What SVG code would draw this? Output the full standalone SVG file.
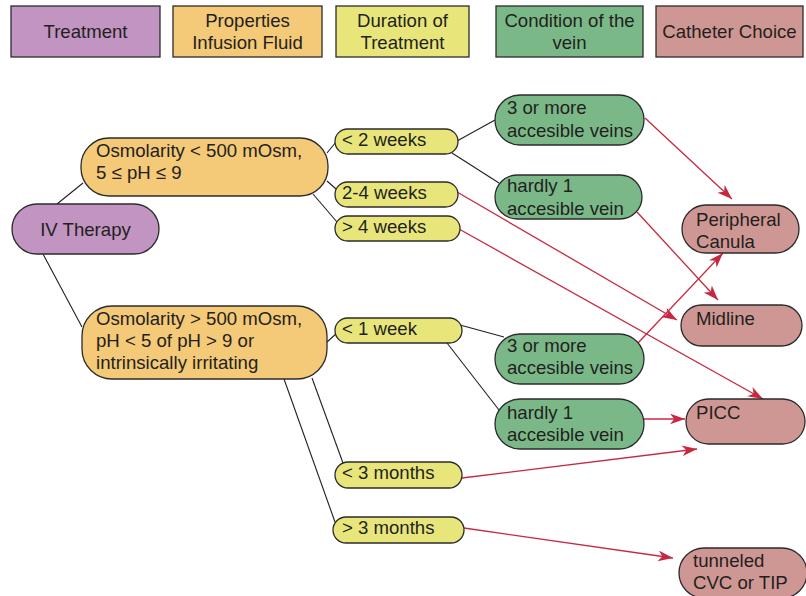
<svg xmlns="http://www.w3.org/2000/svg" width="806" height="596" viewBox="0 0 806 596">
  <defs>
    <style>
      text { font-family: "Liberation Sans", Arial, sans-serif; font-size: 18.6px; fill: #231f20; }
      .c { text-anchor: middle; }
      .box { stroke: #2b2b2b; stroke-width: 1.3; }
      .purple { fill: #c194c2; }
      .orange { fill: #f4c977; }
      .yellow { fill: #e8e67b; }
      .green { fill: #7bb888; }
      .rose { fill: #cf9793; }
      .link { stroke: #231f20; stroke-width: 1.1; fill: none; }
      .arrow { stroke: #c8283f; stroke-width: 1.3; fill: none; marker-end: url(#head); }
    </style>
    <marker id="head" viewBox="0 0 14 10" refX="14" refY="5" markerWidth="15" markerHeight="11" markerUnits="userSpaceOnUse" orient="auto">
      <path d="M0,0 L14,5 L0,10 L4,5 Z" fill="#c8283f"/>
    </marker>
  </defs>

  <!-- legend row -->
  <g id="legend-treatment">
    <rect class="box purple" x="11" y="6" width="149" height="51"/>
    <text class="c" x="85.5" y="38">Treatment</text>
  </g>
  <g id="legend-properties">
    <rect class="box orange" x="173" y="6" width="149" height="51"/>
    <text class="c" x="247.5" y="27">Properties</text>
    <text class="c" x="247.5" y="49">Infusion Fluid</text>
  </g>
  <g id="legend-duration">
    <rect class="box yellow" x="336" y="6" width="133" height="51"/>
    <text class="c" x="402.5" y="27">Duration of</text>
    <text class="c" x="402.5" y="49">Treatment</text>
  </g>
  <g id="legend-condition">
    <rect class="box green" x="496" y="6" width="147" height="51"/>
    <text class="c" x="569.5" y="27">Condition of the</text>
    <text class="c" x="569.5" y="49">vein</text>
  </g>
  <g id="legend-catheter">
    <rect class="box rose" x="656" y="6" width="147" height="51"/>
    <text class="c" x="729.5" y="38">Catheter Choice</text>
  </g>

  <!-- connectors -->
  <g id="connectors">
    <line class="link" x1="57" y1="204" x2="83" y2="183"/>
    <line class="link" x1="43" y1="254" x2="82" y2="327"/>
    <line class="link" x1="327" y1="153" x2="336" y2="142"/>
    <line class="link" x1="327" y1="181" x2="336" y2="189"/>
    <line class="link" x1="313" y1="194" x2="337" y2="222"/>
    <line class="link" x1="457" y1="141" x2="495" y2="120"/>
    <line class="link" x1="452" y1="153" x2="499" y2="183"/>
    <line class="link" x1="327" y1="342" x2="337" y2="333"/>
    <line class="link" x1="312" y1="378" x2="343" y2="463"/>
    <line class="link" x1="284" y1="379" x2="335" y2="522"/>
    <line class="link" x1="460" y1="325" x2="504" y2="337"/>
    <line class="link" x1="447" y1="343" x2="499" y2="410"/>

    <line class="arrow" x1="645" y1="118" x2="732" y2="199"/>
    <line class="arrow" x1="637" y1="212" x2="718" y2="300"/>
    <line class="arrow" x1="457" y1="192" x2="677" y2="320"/>
    <line class="arrow" x1="459" y1="229" x2="763" y2="399"/>
    <line class="arrow" x1="638" y1="343" x2="723" y2="253"/>
    <line class="arrow" x1="644" y1="419" x2="685" y2="419"/>
    <line class="arrow" x1="462" y1="478" x2="697" y2="449"/>
    <line class="arrow" x1="464" y1="528" x2="673" y2="558"/>
  </g>

  <!-- treatment -->
  <g id="iv-therapy">
    <rect class="box purple" x="12" y="204" width="147" height="50" rx="25"/>
    <text class="c" x="85.5" y="236">IV Therapy</text>
  </g>

  <!-- infusion fluid properties -->
  <g id="osm-low">
    <rect class="box orange" x="81" y="138" width="247" height="58" rx="28"/>
    <text x="96" y="157">Osmolarity &lt; 500 mOsm,</text>
    <text x="96" y="179">5 ≤ pH ≤ 9</text>
  </g>
  <g id="osm-high">
    <rect class="box orange" x="82" y="306" width="245" height="73" rx="30"/>
    <text x="96" y="325">Osmolarity &gt; 500 mOsm,</text>
    <text x="96" y="347">pH &lt; 5 of pH &gt; 9 or</text>
    <text x="96" y="369">intrinsically irritating</text>
  </g>

  <!-- durations -->
  <g id="dur-2w">
    <rect class="box yellow" x="335" y="129" width="123" height="25" rx="12.5"/>
    <text x="342" y="146">&lt; 2 weeks</text>
  </g>
  <g id="dur-2-4w">
    <rect class="box yellow" x="335" y="182" width="123" height="25" rx="12.5"/>
    <text x="342" y="199">2-4 weeks</text>
  </g>
  <g id="dur-4w">
    <rect class="box yellow" x="335" y="216" width="125" height="25" rx="12.5"/>
    <text x="342" y="233">&gt; 4 weeks</text>
  </g>
  <g id="dur-1w">
    <rect class="box yellow" x="335" y="318" width="127" height="25" rx="12.5"/>
    <text x="342" y="335">&lt; 1 week</text>
  </g>
  <g id="dur-lt3m">
    <rect class="box yellow" x="335" y="462" width="127" height="26" rx="13"/>
    <text x="342" y="479">&lt; 3 months</text>
  </g>
  <g id="dur-gt3m">
    <rect class="box yellow" x="333" y="517" width="131" height="26" rx="13"/>
    <text x="342" y="534">&gt; 3 months</text>
  </g>

  <!-- vein condition -->
  <g id="vein-many-a">
    <rect class="box green" x="495" y="95" width="149" height="50" rx="25"/>
    <text x="507" y="114">3 or more</text>
    <text x="507" y="137">accesible veins</text>
  </g>
  <g id="vein-one-a">
    <rect class="box green" x="495" y="175" width="147" height="44" rx="22"/>
    <text x="507" y="192">hardly 1</text>
    <text x="507" y="215">accesible vein</text>
  </g>
  <g id="vein-many-b">
    <rect class="box green" x="495" y="334" width="149" height="50" rx="25"/>
    <text x="507" y="352">3 or more</text>
    <text x="507" y="374">accesible veins</text>
  </g>
  <g id="vein-one-b">
    <rect class="box green" x="495" y="399" width="149" height="50" rx="25"/>
    <text x="507" y="419">hardly 1</text>
    <text x="507" y="441">accesible vein</text>
  </g>

  <!-- catheter choices -->
  <g id="peripheral">
    <rect class="box rose" x="682" y="205" width="117" height="48" rx="24"/>
    <text x="696" y="226">Peripheral</text>
    <text x="696" y="248">Canula</text>
  </g>
  <g id="midline">
    <rect class="box rose" x="681" y="305" width="121" height="41" rx="20.5"/>
    <text x="696" y="325">Midline</text>
  </g>
  <g id="picc">
    <rect class="box rose" x="686" y="399" width="119" height="45" rx="22.5"/>
    <text x="696" y="419">PICC</text>
  </g>
  <g id="tunneled">
    <rect class="box rose" x="679" y="548" width="128" height="50" rx="25"/>
    <text x="693" y="567">tunneled</text>
    <text x="693" y="589">CVC or TIP</text>
  </g>
</svg>
